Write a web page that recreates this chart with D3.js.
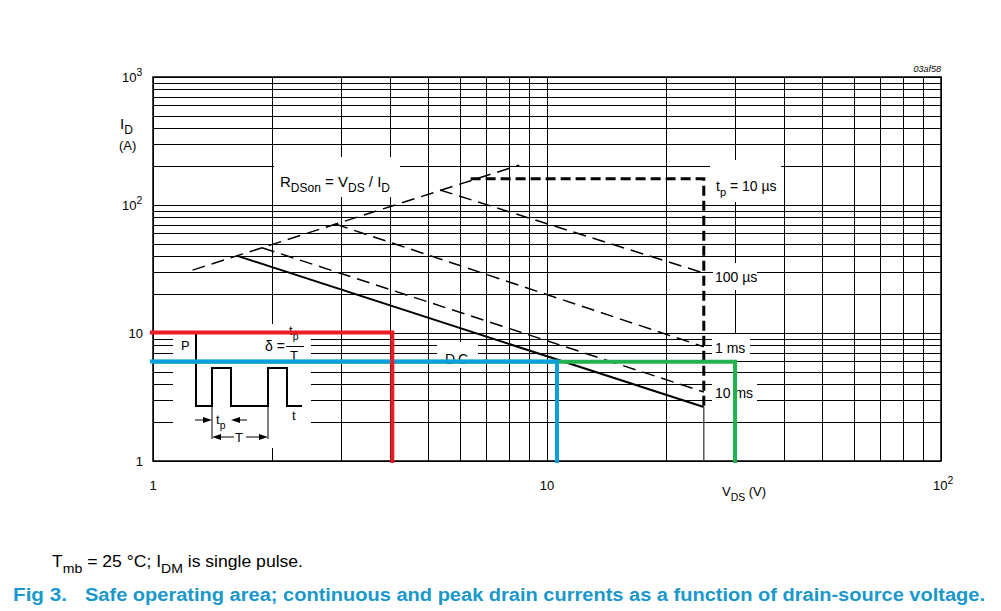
<!DOCTYPE html>
<html>
<head>
<meta charset="utf-8">
<title>Safe operating area</title>
<script src="https://d3js.org/d3.v7.min.js"></script>
<style>
  body { margin: 0; background: #fff; }
  text { font-family: "Liberation Sans", Arial, sans-serif; fill: #000; }
</style>
</head>
<body>
<svg id="chart" width="1001" height="611"></svg>
<script>

/* Values (VDS in V, ID in A) */
var vdsTicks = [1, 10, 100];
var vdsTickText = [["1"], ["10"], ["10", "2"]];
var idTicks = [1, 10, 100, 1000];
var idTickText = [["1"], ["10"], ["10", "2"], ["10", "3"]];

var rdsonV = [1.26, 8.5];
var rdsonI = [31, 205];
var tp10usV = [6.4, 25, 25];
var tp10usI = [160, 160, 2.64];
var tp100usV = [5.35, 25];
var tp100usI = [131, 29.4];
var tp1msV = [2.9, 25];
var tp1msI = [71, 7.8];
var tp10msV = [1.89, 25];
var tp10msI = [46.4, 3.46];
var dcV = [1.63, 25];
var dcI = [40.2, 2.64];
var dcDropV = [25, 25];
var dcDropI = [2.64, 1];

/* coloured marker lines drawn over the chart */
var redV = [0.982, 4.05, 4.05];
var redI = [10.1, 10.1, 0.965];
var greenV = [1.0, 30, 30];
var greenI = [5.97, 5.97, 0.965];
var blueV = [0.982, 10.6, 10.6];
var blueI = [6.0, 6.0, 0.965];

var svg = d3.select("#chart");
var pLeft = 153, pRight = 941, pTop = 77, pBottom = 461;

var x = d3.scaleLog().domain([1, 100]).range([pLeft, pRight]);
var y = d3.scaleLog().domain([1, 1000]).range([pBottom, pTop]);

function pts(vs, is) {
  return vs.map(function (v, k) { return [v, is[k]]; });
}
var line = d3.line().x(function (d) { return x(d[0]); }).y(function (d) { return y(d[1]); });

/* text with sub / superscript parts: [str, "sub"|"sup"|undefined] */
function rich(g, px, py, parts, size, anchor) {
  var t = g.append("text").attr("x", px).attr("y", py)
    .style("font-size", size + "px")
    .attr("text-anchor", anchor || "start");
  var shift = 0;
  parts.forEach(function (p) {
    var dy = 0, fs = size;
    if (p[1] == "sub") { dy = size * 0.35; fs = size * 0.8; }
    if (p[1] == "sup") { dy = -size * 0.45; fs = size * 0.8; }
    t.append("tspan").attr("dy", dy - shift).style("font-size", fs + "px").text(p[0]);
    shift = dy;
  });
  return t;
}

/* Grid from the log axes */
svg.append("g")
  .attr("transform", "translate(0," + pBottom + ")")
  .call(d3.axisBottom(x).ticks(10).tickSize(-(pBottom - pTop)).tickFormat(""));
svg.append("g")
  .attr("transform", "translate(" + pLeft + ",0)")
  .call(d3.axisLeft(y).ticks(10).tickSize(-(pRight - pLeft)).tickFormat(""));
svg.selectAll(".domain").remove();
svg.selectAll(".tick line").attr("stroke", "#000").attr("stroke-width", 1)
  .attr("shape-rendering", "crispEdges");
svg.append("rect").attr("x", pLeft).attr("y", pTop)
  .attr("width", pRight - pLeft).attr("height", pBottom - pTop)
  .attr("fill", "none").attr("stroke", "#000").attr("stroke-width", 1.5);

/* White boxes behind labels cut the grid like in the original */
var boxes = [
  [274, 157, 126, 40],   /* RDSon label */
  [710, 160, 71, 42],    /* tp = 10 us */
  [713, 263, 44, 27],    /* 100 us */
  [712, 334, 38, 26],    /* 1 ms */
  [712, 373, 45, 36],    /* 10 ms */
  [437, 342, 41, 26],    /* DC */
  [173, 324, 138, 124]   /* pulse sketch */
];
svg.append("g").selectAll("rect").data(boxes).join("rect")
  .attr("x", function (d) { return d[0]; }).attr("y", function (d) { return d[1]; })
  .attr("width", function (d) { return d[2]; }).attr("height", function (d) { return d[3]; })
  .attr("fill", "#fff");

/* SOA curves */
var curves = svg.append("g").attr("fill", "none").attr("stroke", "#000");
curves.append("path").attr("d", line(pts(rdsonV, rdsonI)))
  .attr("stroke-width", 1.5).attr("stroke-dasharray", "13,7");
curves.append("path").attr("d", line(pts(tp100usV, tp100usI)))
  .attr("stroke-width", 1.5).attr("stroke-dasharray", "13,7");
curves.append("path").attr("d", line(pts(tp1msV, tp1msI)))
  .attr("stroke-width", 1.5).attr("stroke-dasharray", "13,7");
curves.append("path").attr("d", line(pts(tp10msV, tp10msI)))
  .attr("stroke-width", 1.5).attr("stroke-dasharray", "13,7");
curves.append("path").attr("d", line(pts(dcV, dcI)))
  .attr("stroke-width", 2);
curves.append("path").attr("d", line(pts(dcDropV, dcDropI)))
  .attr("stroke", "#555").attr("stroke-width", 1.5);
curves.append("path").attr("d", line(pts(tp10usV, tp10usI)))
  .attr("stroke-width", 3).attr("stroke-dasharray", "10,5");

/* Curve labels */
rich(svg, 280, 187, [["R"], ["DSon", "sub"], [" = V"], ["DS", "sub"], [" / I"], ["D", "sub"]], 15);
rich(svg, 716, 191, [["t"], ["p", "sub"], [" = 10 \u00b5s"]], 14);
rich(svg, 715, 282, [["100 \u00b5s"]], 14);
rich(svg, 715, 353, [["1 ms"]], 14);
rich(svg, 715, 398, [["10 ms"]], 14);
svg.append("text").attr("x", 445).attr("y", 364).style("font-size", "14px")
  .style("letter-spacing", "3px").text("DC");

/* Pulse sketch */
var ps = svg.append("g");
ps.append("path").attr("d", "M196,333 V406 H212 V368 H231 V406 H268 V368 H287 V406 H302")
  .attr("fill", "none").attr("stroke", "#000").attr("stroke-width", 2);
ps.append("path").attr("d", "M212,407 V439 M268,407 V439")
  .attr("stroke", "#000").attr("stroke-width", 1);
ps.append("path").attr("d", "M195,420 H204 M240,420 H247 M219,437 H234 M246,437 H261 M286,346.5 H304")
  .attr("stroke", "#000").attr("stroke-width", 1.2);
ps.append("path")
  .attr("d", "M212,420 l-9,-3 v6 z M231,420 l9,-3 v6 z M212,437 l9,-3 v6 z M268,437 l-9,-3 v6 z")
  .attr("fill", "#000");
svg.append("text").attr("x", 181).attr("y", 350).style("font-size", "13px").text("P");
svg.append("text").attr("x", 292).attr("y", 420).style("font-size", "13px").text("t");
rich(svg, 216, 424, [["t"], ["p", "sub"]], 13);
svg.append("text").attr("x", 235).attr("y", 442).style("font-size", "13px").text("T");
svg.append("text").attr("x", 265).attr("y", 351).style("font-size", "14px").text("\u03b4 =");
rich(svg, 289, 335, [["t"], ["p", "sub"]], 13);
svg.append("text").attr("x", 290).attr("y", 360).style("font-size", "13px").text("T");

/* Coloured marker lines */
var marks = svg.append("g").attr("fill", "none").attr("stroke-width", 4);
marks.append("path").attr("d", line(pts(greenV, greenI))).attr("stroke", "#22b14c");
marks.append("path").attr("d", line(pts(blueV, blueI))).attr("stroke", "#0aa0e0");
marks.append("path").attr("d", line(pts(redV, redI))).attr("stroke", "#ed1c24");

/* Tick labels */
idTicks.forEach(function (v, k) {
  var parts = idTickText[k];
  if (parts.length == 1) {
    rich(svg, 143, y(v) + 5, [[parts[0]]], 13, "end");
  } else {
    rich(svg, 122, y(v) + 5, [[parts[0]], [parts[1], "sup"]], 13);
  }
});
vdsTicks.forEach(function (v, k) {
  var parts = vdsTickText[k];
  if (parts.length == 1) {
    rich(svg, x(v), 490, [[parts[0]]], 13, "middle");
  } else {
    rich(svg, x(v) - 8, 490, [[parts[0]], [parts[1], "sup"]], 13);
  }
});

/* Axis titles */
rich(svg, 120, 129, [["I"], ["D", "sub"]], 15);
svg.append("text").attr("x", 119).attr("y", 150).style("font-size", "13px").text("(A)");
rich(svg, 722, 496, [["V"], ["DS", "sub"], [" (V)"]], 13);
svg.append("text").attr("x", 941).attr("y", 72).attr("text-anchor", "end")
  .style("font-size", "9px").style("font-style", "italic").text("03af58");

/* Caption and figure title */
rich(svg, 52, 567, [["T"], ["mb", "sub"], [" = 25 \u00b0C; I"], ["DM", "sub"], [" is single pulse."]], 16)
  .attr("textLength", 251).attr("lengthAdjust", "spacingAndGlyphs");
svg.append("text").attr("x", 13).attr("y", 601).style("font-size", "18px")
  .style("font-weight", "bold").style("fill", "#1a98cc")
  .attr("textLength", 54).attr("lengthAdjust", "spacingAndGlyphs").text("Fig 3.");
svg.append("text").attr("x", 85).attr("y", 601).style("font-size", "18px")
  .style("font-weight", "bold").style("fill", "#1a98cc")
  .attr("textLength", 900).attr("lengthAdjust", "spacingAndGlyphs")
  .text("Safe operating area; continuous and peak drain currents as a function of drain-source voltage.");

</script>
</body>
</html>
